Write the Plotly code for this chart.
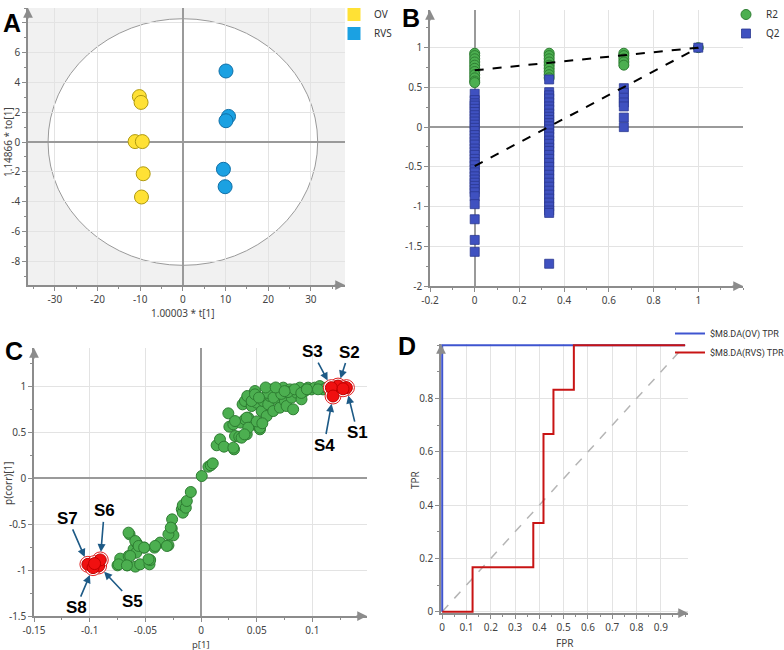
import plotly.graph_objects as go

# ---------------- Panel A : OPLS-DA score plot ----------------
ov_t = [-10.2, -9.8, -11.2, -9.5, -9.3, -9.7]
ov_to = [3.05, 2.66, 0.03, 0.03, -2.13, -3.69]
rvs_t = [10.1, 10.7, 10.1, 9.5, 9.9]
rvs_to = [4.77, 1.72, 1.43, -1.83, -3.0]
t2_t_radius = 31.6
t2_to_radius = 8.28
a_xticks = [-30, -20, -10, 0, 10, 20, 30]
a_xticktext = ["-30", "-20", "-10", "0", "10", "20", "30"]
a_yticks = [-8, -6, -4, -2, 0, 2, 4, 6, 8]
a_yticktext = ["-8", "-6", "-4", "-2", "0", "2", "4", "6", ""]

# ---------------- Panel B : permutation test ----------------
perm_x = [0.0, 0.333, 0.667, 1.0]
r2_col0 = [0.93, 0.90, 0.86, 0.82, 0.78, 0.74, 0.70, 0.66, 0.62, 0.58, 0.56]
r2_col1 = [0.93, 0.90, 0.86, 0.82, 0.78, 0.74, 0.70, 0.66, 0.62]
r2_col2 = [0.93, 0.90, 0.86, 0.82, 0.78]
r2_col3 = [1.0]
q2_col0 = [0.42, 0.34, 0.30, 0.27, 0.23, 0.19, 0.15, 0.11, 0.07, 0.03, -0.01, -0.05,
           -0.10, -0.14, -0.18, -0.22, -0.27, -0.31, -0.35, -0.40, -0.44, -0.48, -0.53,
           -0.57, -0.62, -0.66, -0.70, -0.74, -0.78, -0.82, -0.87, -0.97, -1.16, -1.42, -1.57]
q2_col1 = [0.60, 0.44, 0.40, 0.36, 0.31, 0.26, 0.22, 0.17, 0.13, 0.09, 0.05, 0.01, -0.03,
           -0.08, -0.12, -0.17, -0.21, -0.26, -0.30, -0.35, -0.40, -0.45, -0.50, -0.55,
           -0.60, -0.65, -0.70, -0.75, -0.80, -0.85, -0.90, -0.95, -1.00, -1.05, -1.08, -1.72]
q2_col2 = [0.49, 0.43, 0.37, 0.31, 0.26, 0.12, 0.0]
q2_col3 = [1.0]
r2_fit_x = [0.0, 1.0]
r2_fit_y = [0.715, 1.0]
q2_fit_x = [0.0, 1.0]
q2_fit_y = [-0.49, 1.0]
b_xticks = [-0.2, 0, 0.2, 0.4, 0.6, 0.8, 1.0]
b_xticktext = ["-0.2", "0", "0.2", "0.4", "0.6", "0.8", "1"]
b_yticks = [-2, -1.5, -1, -0.5, 0, 0.5, 1]
b_yticktext = ["-2", "-1.5", "-1", "-0.5", "0", "0.5", "1"]

# ---------------- Panel C : S-plot ----------------
splot_p = [-0.075, -0.0726, -0.0642, -0.065, -0.0606, -0.0576, -0.0582, -0.066, -0.059, -0.0547,
           -0.051, -0.0463, -0.0457, -0.0418, -0.0367, -0.0293, -0.0263, -0.026, -0.0248, -0.0173,
           -0.0164, -0.0164, -0.0137, -0.0128, -0.0092, 0.0006, 0.0066, 0.0087, 0.0105, 0.014,
           0.017, 0.0206, 0.0245, 0.0254, 0.0296, 0.029, 0.0305, 0.0343, 0.041, 0.0356,
           0.0373, 0.0394, 0.0415, 0.0424, 0.0394, 0.0469, 0.0484, 0.0454, 0.0499, 0.0305,
           0.041, 0.0424, 0.0454, 0.0484, 0.0529, 0.0544, 0.0558, 0.0589, 0.0603, 0.0618,
           0.0633, 0.0648, 0.0678, 0.0693, 0.0708, 0.0738, 0.0753, 0.0768, 0.0797, 0.0813,
           0.0827, 0.0857, 0.0887, 0.0902, 0.0932, 0.0961, 0.0992, 0.1021, 0.1066, 0.1096,
           0.1126, -0.0651, -0.0591, -0.0561, -0.0636, -0.0511, -0.0741, -0.0666, -0.0472, -0.0412,
           -0.0307, -0.0293, -0.0272, 0.029, 0.0364, 0.039, 0.0529, 0.05, 0.055, 0.06,
           0.065, 0.072, 0.078, 0.084, 0.09, 0.095, 0.105, 0.058, 0.052, 0.067, 0.075]
splot_pcorr = [-0.948, -0.875, -0.61, -0.846, -0.773, -0.708, -0.81, -0.948, -0.962, -0.937,
               -0.755, -0.937, -0.89, -0.755, -0.70, -0.73, -0.548, -0.447, -0.621, -0.338,
               -0.374, -0.294, -0.32, -0.247, -0.149, 0.025, 0.127, 0.142, 0.163, 0.36,
               0.425, 0.345, 0.708, 0.563, 0.316, 0.588, 0.461, 0.454, 0.48, 0.607,
               0.806, 0.842, 0.897, 0.661, 0.643, 0.588, 0.951, 0.788, 0.825, 0.624,
               0.661, 0.552, 0.842, 0.915, 0.534, 0.733, 0.842, 0.679, 0.806, 0.897,
               0.969, 0.733, 0.861, 0.934, 0.77, 0.988, 0.842, 0.788, 0.969, 0.879,
               0.752, 0.934, 0.988, 0.861, 0.951, 0.988, 0.969, 0.988, 1.005, 0.969,
               0.988, -0.592, -0.683, -0.737, -0.846, -0.755, -0.937, -0.948, -0.882, -0.737,
               -0.737, -0.61, -0.537, 0.334, 0.443, 0.479, 0.552, 0.62, 0.60, 0.93,
               0.88, 0.92, 0.94, 0.97, 0.93, 0.97, 0.97, 0.99, 0.88, 0.99, 0.95]
sel_names = ["S1", "S2", "S3", "S4", "S5", "S6", "S7", "S8"]
sel_p = [0.1305, 0.123, 0.117, 0.1185, -0.092, -0.0905, -0.1016, -0.097]
sel_pcorr = [0.988, 1.005, 0.988, 0.897, -0.955, -0.889, -0.937, -0.973]
sel_extra_p = [0.1275, -0.0956]
sel_extra_pcorr = [0.976, -0.929]
label_dx = [11, 11, -19, -9, 34, 4, -20, -17]
label_dy = [45, -34, -36, 49, 36, -49, -46, 40]
c_xticks = [-0.15, -0.1, -0.05, 0, 0.05, 0.1]
c_xticktext = ["-0.15", "-0.1", "-0.05", "0", "0.05", "0.1"]
c_yticks = [-1.5, -1, -0.5, 0, 0.5, 1]
c_yticktext = ["-1.5", "-1", "-0.5", "0", "0.5", "1"]

# ---------------- Panel D : ROC ----------------
ov_fpr = [0, 0, 1]
ov_tpr = [0, 1, 1]
rvs_fpr = [0, 0.125, 0.125, 0.375, 0.375, 0.417, 0.417, 0.458, 0.458, 0.542, 0.542, 1.0]
rvs_tpr = [0, 0, 0.167, 0.167, 0.333, 0.333, 0.667, 0.667, 0.833, 0.833, 1.0, 1.0]
chance_x = [0, 1]
chance_y = [0, 1]
d_xticks = [0, 0.1, 0.2, 0.3, 0.4, 0.5, 0.6, 0.7, 0.8, 0.9]
d_xticktext = ["0", "0.1", "0.2", "0.3", "0.4", "0.5", "0.6", "0.7", "0.8", "0.9"]
d_yticks = [0, 0.2, 0.4, 0.6, 0.8]
d_yticktext = ["0", "0.2", "0.4", "0.6", "0.8"]

# ---------------- styling ----------------
W, H = 784, 650
AXC = "#8c8c8c"
GRID = "#e3e3e3"
ZC = "#9a9a9a"
FONT = "Noto Sans"
TICKFONT = dict(family=FONT, size=10, color="#444")
GREEN, GREEN_E = "#4CAF50", "#2E7D32"
QBLUE, QBLUE_E = "#3F51C0", "#2B3990"


def px_x(p):
    return p / W


def px_y(p):
    return 1 - p / H


def axis(domain, rng, tickvals, ticktext, minor_dtick, anchor, zeroline=True):
    return dict(
        domain=domain, range=rng, anchor=anchor, tickmode="array",
        tickvals=tickvals, ticktext=ticktext, showline=True, linecolor=AXC,
        linewidth=1.5, ticks="outside", ticklen=4, tickcolor=AXC, tickwidth=1,
        showgrid=True, gridcolor=GRID, gridwidth=1, zeroline=zeroline,
        zerolinecolor=ZC, zerolinewidth=1.5, tickfont=TICKFONT, fixedrange=True,
        automargin=False,
        minor=dict(ticks="outside", ticklen=2.5, tickcolor=AXC, dtick=minor_dtick,
                   tick0=0, showgrid=False),
    )


fig = go.Figure()

# ---- A traces ----
fig.add_trace(go.Scatter(x=ov_t, y=ov_to, mode="markers", xaxis="x", yaxis="y",
                         marker=dict(size=14, color="#FFE135", line=dict(color="#B09A10", width=1)),
                         name="OV", showlegend=False))
fig.add_trace(go.Scatter(x=rvs_t, y=rvs_to, mode="markers", xaxis="x", yaxis="y",
                         marker=dict(size=14, color="#1BA1E2", line=dict(color="#1070A8", width=1)),
                         name="RVS", showlegend=False))
fig.add_trace(go.Scatter(x=[None], y=[None], mode="markers", xaxis="x", yaxis="y",
                         marker=dict(size=13, symbol="square", color="#FFE135"),
                         name="OV", legend="legend"))
fig.add_trace(go.Scatter(x=[None], y=[None], mode="markers", xaxis="x", yaxis="y",
                         marker=dict(size=13, symbol="square", color="#1BA1E2"),
                         name="RVS", legend="legend"))

# ---- B traces ----
r2_cols = [r2_col0, r2_col1, r2_col2, r2_col3]
q2_cols = [q2_col0, q2_col1, q2_col2, q2_col3]
r2_x, r2_y, q2_x, q2_y = [], [], [], []
for xv, col in zip(perm_x, r2_cols):
    r2_x += [xv] * len(col)
    r2_y += col
for xv, col in zip(perm_x, q2_cols):
    q2_x += [xv] * len(col)
    q2_y += col
fig.add_trace(go.Scatter(x=r2_x, y=r2_y, mode="markers", xaxis="x2", yaxis="y2", name="R2",
                         marker=dict(size=10, color=GREEN, line=dict(color=GREEN_E, width=1)),
                         legend="legend2"))
fig.add_trace(go.Scatter(x=q2_x, y=q2_y, mode="markers", xaxis="x2", yaxis="y2", name="Q2",
                         marker=dict(size=9, symbol="square", color=QBLUE,
                                     line=dict(color=QBLUE_E, width=0.8)),
                         legend="legend2"))
fig.add_trace(go.Scatter(x=r2_fit_x, y=r2_fit_y, mode="lines", xaxis="x2", yaxis="y2",
                         line=dict(color="black", width=2, dash="dash"), showlegend=False))
fig.add_trace(go.Scatter(x=q2_fit_x, y=q2_fit_y, mode="lines", xaxis="x2", yaxis="y2",
                         line=dict(color="black", width=2, dash="dash"), showlegend=False))

# ---- C traces ----
fig.add_trace(go.Scatter(x=splot_p, y=splot_pcorr, mode="markers", xaxis="x3", yaxis="y3",
                         marker=dict(size=11, color=GREEN, line=dict(color=GREEN_E, width=1)),
                         showlegend=False, name="variables"))
all_sel_p = sel_p + sel_extra_p
all_sel_pcorr = sel_pcorr + sel_extra_pcorr
fig.add_trace(go.Scatter(x=all_sel_p, y=all_sel_pcorr, mode="markers", xaxis="x3", yaxis="y3",
                         marker=dict(size=16, color="white", line=dict(color="#E02020", width=1)),
                         showlegend=False, hoverinfo="skip"))
fig.add_trace(go.Scatter(x=all_sel_p, y=all_sel_pcorr, mode="markers", xaxis="x3", yaxis="y3",
                         marker=dict(size=12, color="#F01010", line=dict(color="#C00000", width=1)),
                         showlegend=False, name="selected"))

# ---- D traces ----
fig.add_trace(go.Scatter(x=chance_x, y=chance_y, mode="lines", xaxis="x4", yaxis="y4",
                         line=dict(color="#B5B5B5", width=1.5, dash="dash"), showlegend=False))
fig.add_trace(go.Scatter(x=ov_fpr, y=ov_tpr, mode="lines", xaxis="x4", yaxis="y4",
                         line=dict(color="#3F55D0", width=2), name="$M8.DA(OV) TPR",
                         legend="legend3"))
fig.add_trace(go.Scatter(x=rvs_fpr, y=rvs_tpr, mode="lines", xaxis="x4", yaxis="y4",
                         line=dict(color="#C81414", width=2), name="$M8.DA(RVS) TPR",
                         legend="legend3"))

# ---------------- layout ----------------
legend_common = dict(xanchor="left", yanchor="top", bgcolor="rgba(0,0,0,0)", tracegroupgap=0)
layout = dict(
    width=W, height=H, margin=dict(l=0, r=0, t=0, b=0, autoexpand=False),
    paper_bgcolor="white", plot_bgcolor="white",
    font=dict(family=FONT, size=10, color="#333"),
    xaxis=axis([px_x(28), px_x(345)], [-36.3, 38], a_xticks, a_xticktext, 5, "y"),
    yaxis=axis([px_y(285), px_y(8)], [-9.6, 9.0], a_yticks, a_yticktext, 1, "x"),
    xaxis2=axis([px_x(430), px_x(743)], [-0.2, 1.2], b_xticks, b_xticktext, 0.1, "y2"),
    yaxis2=axis([px_y(286), px_y(10)], [-2, 1.474], b_yticks, b_yticktext, 0.25, "x2"),
    xaxis3=axis([px_x(34), px_x(367)], [-0.15, 0.149], c_xticks, c_xticktext, 0.025, "y3"),
    yaxis3=axis([px_y(616), px_y(348)], [-1.5, 1.42], c_yticks, c_yticktext, 0.25, "x3"),
    xaxis4=axis([px_x(441), px_x(688)], [-0.005, 1.012], d_xticks, d_xticktext, 0.05, "y4", False),
    yaxis4=axis([px_y(613), px_y(344)], [-0.005, 1.005], d_yticks, d_yticktext, 0.1, "x4", False),
    legend=dict(x=px_x(334), y=px_y(0), font=dict(family=FONT, size=10, color="#333"),
                **legend_common),
    legend2=dict(x=px_x(726), y=px_y(0), font=dict(family=FONT, size=10, color="#333"),
                 **legend_common),
    legend3=dict(x=px_x(670), y=px_y(319), font=dict(family="Roboto", size=9, color="#333"),
                 **legend_common),
)

shapes = [
    dict(type="rect", xref="x domain", yref="y domain", x0=0, x1=1, y0=0, y1=1,
         fillcolor="#F1F1F1", line=dict(width=0), layer="below"),
    dict(type="circle", xref="x", yref="y", x0=-t2_t_radius, x1=t2_t_radius,
         y0=-t2_to_radius, y1=t2_to_radius, fillcolor="white",
         line=dict(color="#9a9a9a", width=1), layer="below"),
]

annotations = []
# axis arrows
for xa, ya in [("x", "y"), ("x2", "y2"), ("x3", "y3"), ("x4", "y4")]:
    annotations.append(dict(xref=f"{xa} domain", yref=f"{ya} domain", x=1, y=0, ax=-12, ay=0,
                            axref="pixel", ayref="pixel", text="", showarrow=True,
                            arrowhead=2, arrowsize=1.3, arrowwidth=1.5, arrowcolor=AXC))
    annotations.append(dict(xref=f"{xa} domain", yref=f"{ya} domain", x=0, y=1, ax=0, ay=12,
                            axref="pixel", ayref="pixel", text="", showarrow=True,
                            arrowhead=2, arrowsize=1.3, arrowwidth=1.5, arrowcolor=AXC))

# axis titles
for txt, x, y, ang, fs in [("1.00003 * t[1]", 183, 313, 0, 10), ("1.14866 * to[1]", 8, 142, -90, 10),
                           ("p[1]", 201, 644, 0, 9.5), ("p(corr)[1]", 8, 483, -90, 10),
                           ("FPR", 565, 643, 0, 10), ("TPR", 415, 480, -90, 10)]:
    annotations.append(dict(xref="paper", yref="paper", x=px_x(x), y=px_y(y), text=txt,
                            showarrow=False, textangle=ang,
                            font=dict(family=FONT, size=fs, color="#444"),
                            xanchor="center", yanchor="middle"))

# panel letters
for txt, x, y in [("A", 12, 21), ("B", 411, 16), ("C", 14, 349), ("D", 407, 344)]:
    annotations.append(dict(xref="paper", yref="paper", x=px_x(x), y=px_y(y + 2),
                            text=f"<b>{txt}</b>", showarrow=False,
                            font=dict(family="Liberation Sans", size=25, color="black"),
                            xanchor="center", yanchor="middle"))

# S-plot labels
for name, xp, yp, dx, dy in zip(sel_names, sel_p, sel_pcorr, label_dx, label_dy):
    annotations.append(dict(xref="x3", yref="y3", x=xp, y=yp, ax=dx, ay=dy,
                            axref="pixel", ayref="pixel", text=f"<b>{name}</b>",
                            showarrow=True, arrowhead=2, arrowsize=1, arrowwidth=1.6,
                            arrowcolor="#1D5A86", standoff=8,
                            font=dict(family="Liberation Sans", size=17, color="black")))

layout["shapes"] = shapes
layout["annotations"] = annotations
fig.update_layout(**layout)

fig.write_html("out.html")
